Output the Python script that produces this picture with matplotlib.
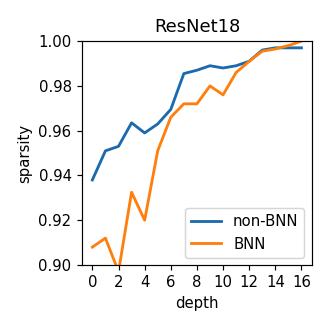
import numpy as np
import matplotlib
matplotlib.use('Agg')
import matplotlib.pyplot as plt

# 데이터
depth = list(range(17))
non_bnn = [0.938, 0.951, 0.953, 0.9635, 0.959, 0.963, 0.9695, 0.9855, 0.987,
           0.989, 0.988, 0.989, 0.991, 0.996, 0.997, 0.997, 0.997]
bnn = [0.908, 0.912, 0.897, 0.9325, 0.920, 0.951, 0.966, 0.972, 0.972,
       0.980, 0.976, 0.986, 0.991, 0.9955, 0.9965, 0.998, 1.000]

fig = plt.figure(figsize=(329 / 107, 329 / 107), dpi=107)
ax = fig.add_axes([0.249, 0.1945, 0.699, 0.6805])

ax.plot(depth, non_bnn, color='#1a6aad', lw=1.9, label='non-BNN')
ax.plot(depth, bnn, color='#ff7f0e', lw=1.9, label='BNN')

ax.set_title('ResNet18')
ax.set_xlabel('depth')
ax.set_ylabel('sparsity')
ax.set_ylim(0.90, 1.00)
ax.set_xticks(range(0, 17, 2))
ax.set_yticks(np.arange(0.90, 1.001, 0.02))
ax.yaxis.set_major_formatter(matplotlib.ticker.FormatStrFormatter('%.2f'))
ax.legend(loc='lower right')

fig.savefig('out.png', dpi=107)
